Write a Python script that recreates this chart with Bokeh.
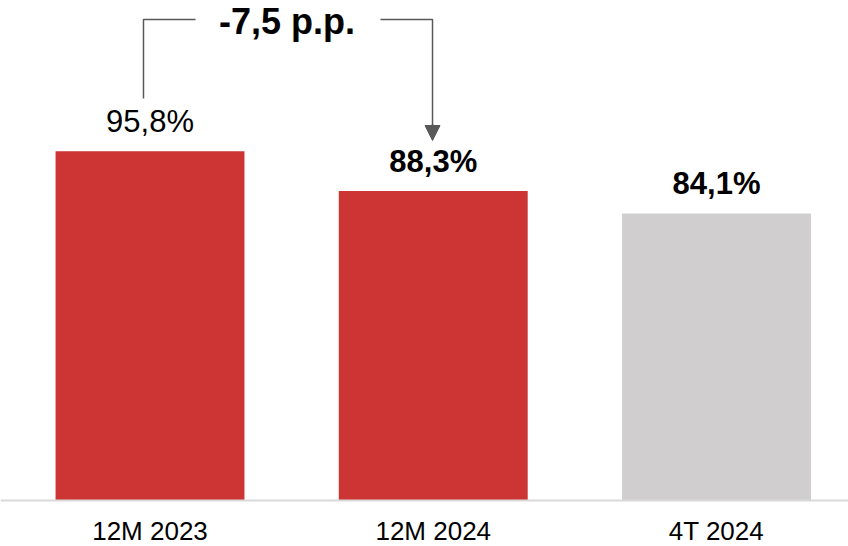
from bokeh.plotting import figure
from bokeh.models import ColumnDataSource, Range1d, Span, Arrow, NormalHead
from bokeh.core.properties import value
from bokeh.embed import file_html
from bokeh.resources import INLINE

# ---- data ----
categories = ["12M 2023", "12M 2024", "4T 2024"]
values = [95.8, 88.3, 84.1]
value_labels = ["95,8%", "88,3%", "84,1%"]
label_styles = ["normal", "bold", "bold"]
bar_colors = ["#CD3434", "#CD3434", "#D0CECE"]
axis_base = 30.0
delta = round(values[1] - values[0], 1)
delta_label = f"{delta:.1f}".replace(".", ",") + " p.p."

FONT = "Liberation Sans"
idx = list(range(len(categories)))

p = figure(width=848, height=546, output_backend="svg", toolbar_location=None,
           x_range=Range1d(-0.5278, 2.4660), y_range=Range1d(21.332, 124.215),
           x_axis_type=None, y_axis_type=None, min_border=0,
           min_border_left=0, min_border_right=0, min_border_top=0, min_border_bottom=0)
p.outline_line_color = None
p.grid.visible = False
p.background_fill_color = "white"
p.border_fill_color = "white"

src = ColumnDataSource(dict(x=idx, top=values, color=bar_colors, lab=value_labels,
                            style=label_styles, cat=categories,
                            base=[axis_base] * len(idx)))

p.vbar(x="x", top="top", bottom=axis_base, width=0.667, fill_color="color",
       line_color=None, source=src)

# baseline
p.add_layout(Span(location=axis_base, dimension="width", line_color="#D9D9D9", line_width=2))

# value labels
p.text(x="x", y="top", text="lab", source=src, text_font=value(FONT),
       text_font_size="31px", text_font_style="style", text_align="center",
       text_baseline="alphabetic", y_offset=-30, text_color="#000000")

# category labels
p.text(x="x", y="base", text="cat", source=src, text_font=value(FONT),
       text_font_size="26px", text_align="center", text_baseline="alphabetic",
       y_offset=31, text_color="#000000")

# bracket annotation
top_y = 120.64
left_x = -0.023
p.line(x=[left_x, left_x, 0.1607], y=[105.75, top_y, top_y], line_color="#595959", line_width=1.5)
p.line(x=[0.8138, 0.9974, 0.9974], y=[top_y, top_y, 100.6], line_color="#595959", line_width=1.5)
p.add_layout(Arrow(end=NormalHead(size=15, fill_color="#595959", line_color="#595959"),
                   x_start=0.9974, y_start=101.0, x_end=0.9974, y_end=97.83,
                   line_color="#595959", line_width=1.5))
p.text(x=[0.4837], y=[118.0], text=[delta_label], text_font=value(FONT),
       text_font_size="36px", text_font_style="bold", text_align="center",
       text_baseline="alphabetic", y_offset=-12, text_color="#000000")

open("out.html", "w").write(file_html(p, INLINE))
